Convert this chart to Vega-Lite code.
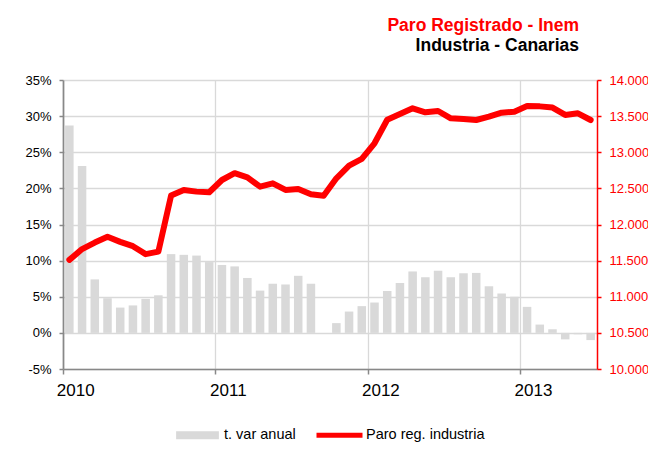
{
  "$schema": "https://vega.github.io/schema/vega-lite/v6.json",
  "width": 534,
  "height": 289,
  "autosize": {"type": "none"},
  "padding": {"left": 63, "top": 80, "right": 51, "bottom": 85},
  "background": "white",
  "config": {"font": "Liberation Sans", "view": {"stroke": null}},
  "title": {
    "text": "Paro Registrado - Inem",
    "subtitle": "Industria - Canarias",
    "anchor": "end",
    "frame": "group",
    "dx": -18,
    "offset": 20,
    "color": "#ff0000",
    "fontSize": 17.5,
    "fontWeight": "bold",
    "font": "Liberation Sans",
    "subtitleColor": "#000000",
    "subtitleFontSize": 17.5,
    "subtitleFontWeight": "bold",
    "subtitleFont": "Liberation Sans",
    "subtitlePadding": 2
  },
  "data": {
    "values": [
      {"mes": "2010-01", "var": 28.7, "paro": 11510},
      {"mes": "2010-02", "var": 23.1, "paro": 11660},
      {"mes": "2010-03", "var": 7.4, "paro": 11750},
      {"mes": "2010-04", "var": 4.8, "paro": 11830},
      {"mes": "2010-05", "var": 3.5, "paro": 11760},
      {"mes": "2010-06", "var": 3.8, "paro": 11700},
      {"mes": "2010-07", "var": 4.7, "paro": 11590},
      {"mes": "2010-08", "var": 5.2, "paro": 11625},
      {"mes": "2010-09", "var": 10.9, "paro": 12400},
      {"mes": "2010-10", "var": 10.8, "paro": 12478},
      {"mes": "2010-11", "var": 10.7, "paro": 12455},
      {"mes": "2010-12", "var": 9.8, "paro": 12446},
      {"mes": "2011-01", "var": 9.4, "paro": 12616},
      {"mes": "2011-02", "var": 9.2, "paro": 12710},
      {"mes": "2011-03", "var": 7.6, "paro": 12653},
      {"mes": "2011-04", "var": 5.85, "paro": 12524},
      {"mes": "2011-05", "var": 6.8, "paro": 12570},
      {"mes": "2011-06", "var": 6.7, "paro": 12478},
      {"mes": "2011-07", "var": 7.9, "paro": 12492},
      {"mes": "2011-08", "var": 6.8, "paro": 12418},
      {"mes": "2011-09", "var": 0, "paro": 12399},
      {"mes": "2011-10", "var": 1.35, "paro": 12639},
      {"mes": "2011-11", "var": 2.95, "paro": 12814},
      {"mes": "2011-12", "var": 3.7, "paro": 12907},
      {"mes": "2012-01", "var": 4.2, "paro": 13124},
      {"mes": "2012-02", "var": 5.8, "paro": 13450},
      {"mes": "2012-03", "var": 6.9, "paro": 13528},
      {"mes": "2012-04", "var": 8.5, "paro": 13608},
      {"mes": "2012-05", "var": 7.7, "paro": 13553},
      {"mes": "2012-06", "var": 8.6, "paro": 13571},
      {"mes": "2012-07", "var": 7.7, "paro": 13470},
      {"mes": "2012-08", "var": 8.25, "paro": 13460},
      {"mes": "2012-09", "var": 8.3, "paro": 13446},
      {"mes": "2012-10", "var": 6.45, "paro": 13492},
      {"mes": "2012-11", "var": 5.45, "paro": 13548},
      {"mes": "2012-12", "var": 5.0, "paro": 13562},
      {"mes": "2013-01", "var": 3.6, "paro": 13640},
      {"mes": "2013-02", "var": 1.15, "paro": 13635},
      {"mes": "2013-03", "var": 0.5, "paro": 13618},
      {"mes": "2013-04", "var": -0.9, "paro": 13516},
      {"mes": "2013-05", "var": -0.2, "paro": 13539},
      {"mes": "2013-06", "var": -1.0, "paro": 13446}
    ]
  },
  "encoding": {
    "x": {
      "field": "mes",
      "type": "ordinal",
      "sort": null,
      "scale": {"paddingInner": 0, "paddingOuter": 0},
      "axis": {
        "title": null,
        "values": ["2010-01", "2011-01", "2012-01", "2013-01"],
        "labelExpr": "substring(datum.value, 0, 4)",
        "bandPosition": 0,
        "labelOffset": 6.4,
        "labelAngle": 0,
        "labelFontSize": 17,
        "labelColor": "#000000",
        "labelFlush": false,
        "labelOverlap": false,
        "labelPadding": 8,
        "tickColor": "#888888",
        "tickSize": 5,
        "tickWidth": 1.5,
        "domainColor": "#888888",
        "domainWidth": 1.7,
        "grid": true,
        "gridColor": "#d9d9d9",
        "gridWidth": 1.3
      }
    }
  },
  "layer": [
    {
      "mark": {"type": "bar", "width": {"band": 0.67}},
      "encoding": {
        "y": {
          "field": "var",
          "type": "quantitative",
          "scale": {"domain": [-5, 35], "nice": false, "zero": false},
          "axis": {
            "title": null,
            "values": [-5, 0, 5, 10, 15, 20, 25, 30, 35],
            "labelExpr": "datum.value + '%'",
            "labelFontSize": 13,
            "labelColor": "#000000",
            "labelPadding": 8,
            "domainColor": "#888888",
            "domainWidth": 1.7,
            "tickColor": "#888888",
            "tickSize": 4,
            "tickWidth": 1.5,
            "grid": true,
            "gridColor": "#d9d9d9",
            "gridWidth": 1.3
          }
        },
        "color": {
          "datum": "t. var anual",
          "scale": {"domain": ["t. var anual", "Paro reg. industria"], "range": ["#d9d9d9", "#ff0000"]},
          "legend": {
            "orient": "none",
            "legendX": 111.5,
            "legendY": 332,
            "direction": "horizontal",
            "title": null,
            "padding": 0,
            "symbolSize": 2116,
            "labelFontSize": 14.5,
            "labelFont": "Liberation Sans",
            "labelColor": "#000000",
            "labelOffset": 3.5,
            "columnPadding": 20,
            "encode": {
              "symbols": {
                "update": {
                  "shape": {"signal": "datum.value === 't. var anual' ? 'M-0.93,-0.174H0.93V0.174H-0.93Z' : 'M-1,-0.11H1V0.11H-1Z'"},
                  "fill": {"signal": "datum.value === 't. var anual' ? '#d9d9d9' : '#ff0000'"},
                  "stroke": {"value": "transparent"},
                  "strokeWidth": {"value": 0},
                  "opacity": {"value": 1}
                }
              }
            }
          }
        }
      }
    },
    {
      "mark": {"type": "line", "strokeWidth": 6, "strokeCap": "round", "strokeJoin": "round"},
      "encoding": {
        "y": {
          "field": "paro",
          "type": "quantitative",
          "scale": {"domain": [10000, 14000], "nice": false, "zero": false},
          "axis": {
            "orient": "right",
            "title": null,
            "values": [10000, 10500, 11000, 11500, 12000, 12500, 13000, 13500, 14000],
            "labelExpr": "replace(format(datum.value, ','), ',', '.')",
            "labelFontSize": 13,
            "labelColor": "#ff0000",
            "labelPadding": 8,
            "domainColor": "#ff0000",
            "domainWidth": 1.5,
            "tickColor": "#ff0000",
            "tickSize": 4,
            "tickWidth": 1.5,
            "grid": false
          }
        },
        "color": {"datum": "Paro reg. industria"}
      }
    }
  ],
  "resolve": {"scale": {"y": "independent"}}
}
